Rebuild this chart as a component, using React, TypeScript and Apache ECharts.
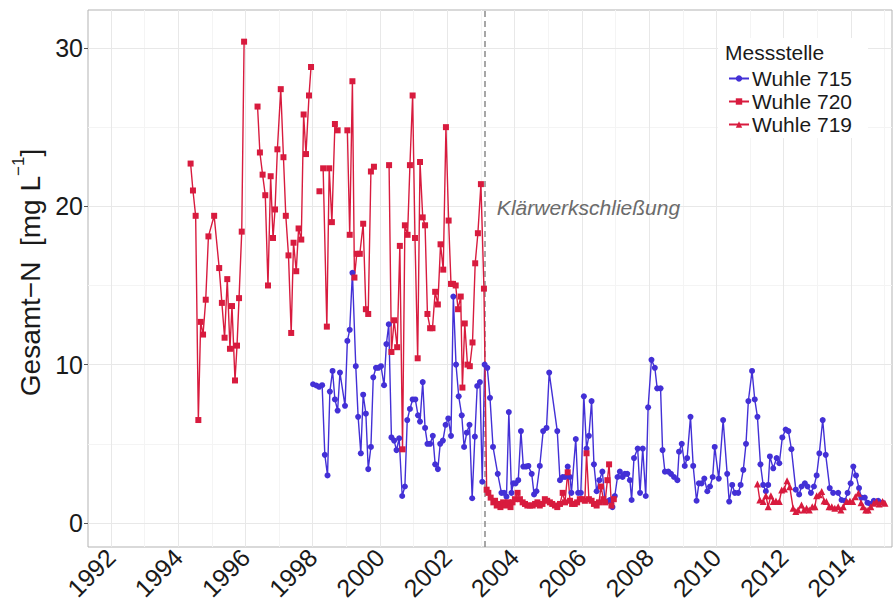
import React, { useEffect, useRef } from 'react';
import * as echarts from 'echarts';

const seriesNames = ['Wuhle 715', 'Wuhle 720', 'Wuhle 719'];
const legendTitle = 'Messstelle';
const annotationText = 'Klärwerkschließung';
const closureYear = 2003.12;

const xTickLabels = [1992, 1994, 1996, 1998, 2000, 2002, 2004, 2006, 2008, 2010, 2012, 2014];
const xMinorGrid = [1993, 1995, 1997, 1999, 2001, 2003, 2005, 2007, 2009, 2011, 2013, 2015];
const yTickLabels = [0, 10, 20, 30];
const yMinorGrid = [5, 15, 25];

// [decimal year, Gesamt-N mg/L]; null = missing value (breaks the line)
const wuhle715: [number, number | null][] = [
  [1998.01, 8.76], [1998.11, 8.68], [1998.19, 8.6], [1998.28, 8.7], [1998.36, 4.3], [1998.44, 3.0],
  [1998.51, 8.3], [1998.59, 9.6], [1998.66, 7.8], [1998.74, 7.1], [1998.81, 9.5], [1998.96, 7.4],
  [1999.03, 11.5], [1999.10, 12.2], [1999.18, 15.8], [1999.28, 9.9], [1999.35, 6.7], [1999.43, 4.4],
  [1999.50, 8.1], [1999.58, 6.9], [1999.65, 3.4], [1999.73, 4.8], [1999.80, 9.2], [1999.88, 9.8],
  [1999.95, 9.8], [2000.03, 9.9], [2000.12, 8.7], [2000.19, 11.3], [2000.26, 12.55], [2000.34, 5.4],
  [2000.42, 5.2], [2000.49, 4.6], [2000.57, 5.35], [2000.66, 1.7], [2000.74, 2.3], [2000.81, 6.5],
  [2000.89, 7.2], [2000.97, 7.8], [2001.05, 7.8], [2001.13, 6.8], [2001.19, 6.4], [2001.27, 8.9],
  [2001.34, 6.0], [2001.41, 5.0], [2001.49, 5.0], [2001.57, 5.5], [2001.64, 3.7], [2001.72, 3.4],
  [2001.79, 5.0], [2001.87, 5.2], [2001.95, 6.2], [2002.03, 6.6], [2002.11, 5.5], [2002.18, 14.3],
  [2002.26, 10.0], [2002.34, 8.0], [2002.43, 6.8], [2002.50, 4.8], [2002.58, 5.7], [2002.66, 6.2],
  [2002.74, 1.56], [2002.82, 5.45], [2002.89, 8.65], [2002.97, 8.9], [2003.04, 2.6], [2003.11, 10.0],
  [2003.19, 9.8], [2003.27, 7.9], [2003.36, 4.8], [2003.50, 3.1], [2003.61, 1.9], [2003.69, 1.9],
  [2003.76, 1.66], [2003.83, 7.0], [2003.91, 1.9], [2003.96, 2.5], [2004.03, 2.5], [2004.11, 2.7],
  [2004.19, 5.8], [2004.26, 3.56], [2004.34, 3.56], [2004.41, 3.6], [2004.51, 3.1], [2004.58, 1.8],
  [2004.65, 2.0], [2004.75, 3.6], [2004.85, 5.8], [2004.95, 6.0], [2005.03, 9.5], [2005.27, 5.8],
  [2005.35, 2.7], [2005.43, 2.9], [2005.50, 2.9], [2005.58, 3.56], [2005.65, 2.9], [2005.69, 1.9],
  [2005.82, 5.3], [2005.89, 1.9], [2005.97, 1.9], [2006.06, 8.0], [2006.14, 4.7], [2006.21, 5.5],
  [2006.29, 7.7], [2006.36, 3.7], [2006.44, 2.0], [2006.52, 2.7], [2006.61, 3.24], [2006.69, 1.35],
  [2006.75, 1.35], [2006.83, 1.45], [2006.91, 1.0], [2006.98, 1.7], [2007.06, 2.9], [2007.13, 3.24],
  [2007.21, 2.9], [2007.28, 3.1], [2007.35, 3.1], [2007.43, 2.7], [2007.48, 1.45], [2007.55, 4.1],
  [2007.66, 4.7], [2007.73, 1.9], [2007.81, 4.7], [2007.90, 1.7], [2007.97, 7.3], [2008.07, 10.3],
  [2008.17, 9.8], [2008.24, 8.5], [2008.34, 8.5], [2008.40, 4.6], [2008.47, 3.24], [2008.57, 3.24],
  [2008.65, 3.1], [2008.74, 2.9], [2008.84, 2.7], [2008.89, 4.5], [2008.97, 5.0], [2009.06, 3.6],
  [2009.13, 4.1], [2009.23, 6.7], [2009.31, 3.6], [2009.41, 1.4], [2009.48, 2.5], [2009.56, 2.5],
  [2009.64, 2.8], [2009.73, 2.0], [2009.81, 2.3], [2009.89, 2.9], [2009.95, 4.8], [2010.07, 2.8],
  [2010.20, 6.5], [2010.32, 3.1], [2010.38, 1.35], [2010.47, 2.4], [2010.55, 1.9], [2010.65, 1.9],
  [2010.72, 2.4], [2010.80, 3.35], [2010.88, 5.0], [2010.95, 7.7], [2011.06, 9.6], [2011.14, 7.8],
  [2011.22, 6.7], [2011.31, 3.7], [2011.39, 2.4], [2011.47, 2.0], [2011.54, 2.4], [2011.59, 4.2],
  [2011.69, 3.45], [2011.79, 4.1], [2011.87, 3.77], [2011.96, 5.4], [2012.06, 5.9], [2012.14, 5.8],
  [2012.23, 4.66], [2012.36, 2.1], [2012.46, 1.8], [2012.53, 2.3], [2012.63, 2.5], [2012.71, 2.3],
  [2012.81, 1.9], [2012.90, 2.3], [2012.98, 3.0], [2013.06, 4.4], [2013.16, 6.5], [2013.25, 4.3],
  [2013.37, 2.2], [2013.47, 1.9], [2013.62, 1.9], [2013.72, 1.45], [2013.82, 1.4], [2013.90, 1.9],
  [2013.99, 2.5], [2014.07, 3.56], [2014.15, 3.0], [2014.24, 2.2], [2014.31, 1.6], [2014.41, 1.6],
  [2014.49, 1.28], [2014.58, 1.2], [2014.68, 1.4], [2014.81, 1.4], [2014.94, 1.28],
];

const wuhle720: [number, number | null][] = [
  [1994.37, 22.7], [1994.44, 21.0], [1994.52, 19.4], [1994.60, 6.5], [1994.67, 12.7], [1994.74, 11.9],
  [1994.82, 14.1], [1994.90, 18.1], [1995.07, 19.4], [1995.22, 16.1], [1995.30, 13.9], [1995.38, 11.7],
  [1995.46, 15.4], [1995.54, 11.0], [1995.60, 13.7], [1995.69, 9.0], [1995.75, 11.2], [1995.81, 14.2],
  [1995.89, 18.4], [1995.96, 30.4], [1996.15, null],
  [1996.36, 26.3], [1996.43, 23.4], [1996.51, 22.0], [1996.59, 20.7], [1996.67, 15.0], [1996.75, 21.9],
  [1996.82, 18.0], [1996.88, 19.8], [1996.95, 23.6], [1997.05, 27.4], [1997.13, 23.1], [1997.20, 19.4],
  [1997.28, 16.9], [1997.36, 12.0], [1997.43, 17.7], [1997.51, 15.9], [1997.58, 18.6], [1997.66, 17.9],
  [1997.73, 25.8], [1997.80, 23.3], [1997.89, 27.0], [1997.95, 28.8], [1998.05, null],
  [1998.20, 20.95], [1998.25, null],
  [1998.31, 22.4], [1998.42, 12.4], [1998.49, 22.4], [1998.57, 19.0], [1998.66, 25.2], [1998.74, 24.8],
  [1998.90, null],
  [1999.03, 24.8], [1999.10, 18.2], [1999.18, 27.9], [1999.24, 15.5], [1999.31, 17.0], [1999.40, 17.0],
  [1999.50, 18.9], [1999.58, 13.5], [1999.65, 13.2], [1999.73, 22.2], [1999.82, 22.5], [2000.00, null],
  [2000.27, 22.6], [2000.34, 10.8], [2000.42, 12.8], [2000.51, 11.1], [2000.59, 17.5], [2000.67, 4.65],
  [2000.74, 18.8], [2000.82, 18.2], [2000.89, 22.6], [2000.97, 27.0], [2001.04, 18.0], [2001.12, 10.4],
  [2001.19, 22.8], [2001.27, 19.3], [2001.34, 18.8], [2001.41, 13.2], [2001.49, 12.3], [2001.56, 12.3],
  [2001.64, 14.6], [2001.72, 13.8], [2001.80, 17.6], [2001.88, 16.0], [2001.96, 25.0], [2002.04, 19.1],
  [2002.11, 15.1], [2002.17, 15.1], [2002.25, 15.0], [2002.32, 13.5], [2002.40, 14.3], [2002.45, 8.55],
  [2002.52, 12.6], [2002.60, 10.0], [2002.67, 9.9], [2002.75, 11.4], [2002.83, 16.4], [2002.91, 18.3],
  [2003.00, 21.4], [2003.09, 14.8],
  [2003.17, 2.1], [2003.22, 1.9], [2003.29, 1.6], [2003.37, 1.3], [2003.42, 1.4], [2003.47, 1.1],
  [2003.51, 1.2], [2003.58, 1.0], [2003.66, 1.3], [2003.74, 1.1], [2003.81, 1.3], [2003.88, 1.0],
  [2003.94, 1.3], [2004.01, 1.5], [2004.09, 1.9], [2004.16, 1.5], [2004.24, 1.3], [2004.31, 1.2],
  [2004.38, 1.1], [2004.46, 1.1], [2004.54, 1.1], [2004.61, 1.2], [2004.68, 1.3], [2004.75, 1.1],
  [2004.83, 1.2], [2004.90, 1.5], [2004.97, 1.4], [2005.05, 1.3], [2005.12, 1.2], [2005.20, 1.1],
  [2005.27, 1.0], [2005.35, 1.2], [2005.43, 1.9], [2005.50, 1.3], [2005.58, 3.2], [2005.65, 1.4],
  [2005.71, 1.2], [2005.79, 1.2], [2005.86, 1.3], [2005.94, 1.5], [2006.01, 1.5], [2006.09, 1.4],
  [2006.14, 4.4], [2006.21, 1.5], [2006.29, 1.4], [2006.36, 1.2], [2006.44, 1.1], [2006.51, 1.3],
  [2006.57, 2.3], [2006.64, 1.5], [2006.69, 1.3], [2006.76, 2.7], [2006.81, 3.7], [2006.88, 1.1],
  [2006.95, 1.5],
];

const wuhle719: [number, number | null][] = [
  [2011.22, 2.46], [2011.29, 1.45], [2011.39, 1.35], [2011.47, 1.72], [2011.54, 1.03], [2011.62, 1.72],
  [2011.69, 1.35], [2011.77, 1.39], [2011.87, 1.35], [2011.94, 2.08], [2012.02, 2.15], [2012.10, 2.67],
  [2012.18, 2.29], [2012.28, 0.93], [2012.36, 0.72], [2012.43, 0.82], [2012.53, 1.14], [2012.60, 0.82],
  [2012.68, 0.93], [2012.76, 0.82], [2012.85, 1.03], [2012.93, 1.03], [2012.98, 1.72], [2013.06, 1.78],
  [2013.13, 1.98], [2013.20, 1.39], [2013.27, 1.35], [2013.35, 1.03], [2013.43, 1.03], [2013.52, 0.93],
  [2013.62, 1.03], [2013.70, 0.82], [2013.77, 1.03], [2013.87, 1.35], [2013.97, 1.39], [2014.05, 1.35],
  [2014.13, 1.66], [2014.22, 1.87], [2014.30, 1.28], [2014.36, 1.03], [2014.44, 0.82], [2014.51, 0.82],
  [2014.59, 1.03], [2014.68, 1.24], [2014.76, 1.35], [2014.84, 1.2], [2014.94, 1.35], [2015.01, 1.24],
];

const BLUE = '#4330d6';
const RED = '#d81b3e';
const FONT = '"Liberation Sans", Arial, Helvetica, sans-serif';

const toData = (arr: [number, number | null][]) =>
  arr.map(([x, y]) => [x, y === null ? '-' : y]);

export default function App() {
  const ref = useRef<HTMLDivElement>(null);

  useEffect(() => {
    if (!ref.current) return;
    const chart = echarts.init(ref.current, undefined, { renderer: 'svg' });

    const gridLines: any[] = [
      ...xMinorGrid.map((v) => ({ xAxis: v, lineStyle: { color: '#f4f4f4', width: 1, type: 'solid' } })),
      ...yMinorGrid.map((v) => ({ yAxis: v, lineStyle: { color: '#f4f4f4', width: 1, type: 'solid' } })),
      ...xTickLabels.map((v) => ({ xAxis: v, lineStyle: { color: '#e8e8e8', width: 1, type: 'solid' } })),
      ...yTickLabels.map((v) => ({ yAxis: v, lineStyle: { color: '#e8e8e8', width: 1, type: 'solid' } })),
      { xAxis: closureYear, lineStyle: { color: '#8a8a8a', width: 1.5, type: [6, 4] } },
    ];

    const lineSeries = (name: string, data: any[], color: string, symbol: string, size: number) => ({
      name,
      type: 'line',
      data,
      z: 3,
      symbol,
      symbolSize: size,
      showAllSymbol: true,
      connectNulls: false,
      lineStyle: { color, width: 1.4 },
      itemStyle: { color },
      emphasis: { disabled: true },
    });

    chart.setOption({
      animation: false,
      backgroundColor: '#ffffff',
      textStyle: { fontFamily: FONT },
      graphic: [
        {
          type: 'rect',
          z: 2,
          silent: true,
          shape: { x: 718, y: 38, width: 150, height: 100 },
          style: { fill: '#ffffff' },
        },
      ],
      title: {
        text: legendTitle,
        left: 725,
        top: 42,
        padding: 0,
        textStyle: { fontFamily: FONT, fontSize: 21, fontWeight: 'normal', color: '#1a1a1a' },
      },
      legend: {
        data: seriesNames,
        orient: 'vertical',
        left: 728,
        top: 68,
        padding: 0,
        itemWidth: 20,
        itemHeight: 8,
        itemGap: 2,
        textStyle: { fontFamily: FONT, fontSize: 21, color: '#1a1a1a', padding: [0, 0, 0, -2] },
      },
      grid: {
        left: 88,
        top: 10,
        right: 1,
        bottom: 65,
        show: true,
        borderColor: '#b3b3b3',
        borderWidth: 1,
        backgroundColor: '#ffffff',
      },
      xAxis: {
        type: 'value',
        min: 1991.32,
        max: 2015.22,
        axisLine: { show: false },
        splitLine: { show: false },
        axisTick: { show: true, customValues: xTickLabels, length: 4, lineStyle: { color: '#555', width: 1 } },
        axisLabel: {
          customValues: xTickLabels,
          rotate: 45,
          fontSize: 25,
          color: '#1a1a1a',
          fontFamily: FONT,
          margin: 6,
          formatter: (v: number) => String(Math.round(v)),
        },
      },
      yAxis: {
        type: 'value',
        min: -1.52,
        max: 32.4,
        name: '{p| }{a|Gesamt−N  [mg L}{s|−1}{a|]}',
        nameLocation: 'middle',
        nameRotate: 90,
        nameGap: 40,
        nameTextStyle: {
          fontFamily: FONT,
          color: '#1a1a1a',
          rich: {
            p: { fontSize: 10, width: 12, lineHeight: 34 },
            a: { fontSize: 28, fontFamily: FONT, color: '#1a1a1a', lineHeight: 34, verticalAlign: 'bottom' },
            s: { fontSize: 17, fontFamily: FONT, color: '#1a1a1a', lineHeight: 34, verticalAlign: 'top' },
          },
        },
        axisLine: { show: false },
        splitLine: { show: false },
        axisTick: { show: true, customValues: yTickLabels, length: 4, lineStyle: { color: '#555', width: 1 } },
        axisLabel: {
          customValues: yTickLabels,
          fontSize: 25,
          color: '#1a1a1a',
          fontFamily: FONT,
          margin: 5,
        },
      },
      series: [
        {
          name: '_grid',
          type: 'line',
          data: [],
          z: 1,
          silent: true,
          markLine: {
            z: 1,
            silent: true,
            symbol: ['none', 'none'],
            label: { show: false },
            emphasis: { disabled: true },
            data: gridLines,
          },
        },
        lineSeries(seriesNames[0], toData(wuhle715), BLUE, 'circle', 6),
        {
          ...lineSeries(seriesNames[1], toData(wuhle720), RED, 'rect', 6),
          markPoint: {
            silent: true,
            symbol: 'circle',
            symbolSize: 1,
            itemStyle: { color: 'rgba(0,0,0,0)' },
            data: [
              {
                coord: [2003.4, 19.9],
                label: {
                  show: true,
                  position: 'right',
                  distance: 2,
                  formatter: annotationText,
                  fontFamily: FONT,
                  fontStyle: 'italic',
                  fontSize: 21,
                  color: '#6b6b6b',
                },
              },
            ],
          },
        },
        lineSeries(seriesNames[2], toData(wuhle719), RED, 'triangle', 7),
      ],
    });

    return () => chart.dispose();
  }, []);

  return (
    <div
      ref={ref}
      style={{ position: 'fixed', left: 0, top: 0, width: 893, height: 612, background: '#fff' }}
    />
  );
}
